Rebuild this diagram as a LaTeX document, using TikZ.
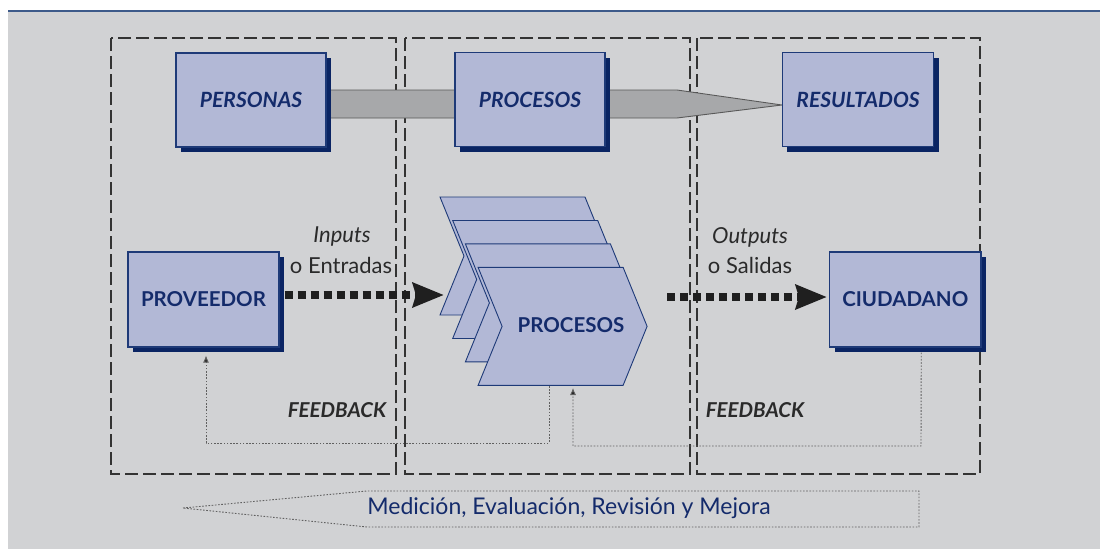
\documentclass[tikz,border=0pt]{standalone}
\usepackage{fontspec}
\setmainfont{Lato}
\usetikzlibrary{arrows.meta,shadows,calc}
\definecolor{bgc}{HTML}{D1D2D4}
\definecolor{boxfill}{HTML}{B2B8D6}
\definecolor{boxline}{HTML}{1E3A78}
\definecolor{shadowc}{HTML}{0A2463}
\definecolor{navy}{HTML}{142B6B}
\definecolor{darktext}{HTML}{2A2A2A}
\definecolor{barfill}{HTML}{A7A8AA}
\definecolor{topblue}{HTML}{3D5A8A}
\definecolor{framec}{HTML}{333333}
\definecolor{dotc}{HTML}{606060}
\tikzset{
  frame/.style={draw=framec, line width=1.2pt, dash pattern=on 13pt off 5pt},
  box/.style={draw=boxline, fill=boxfill, line width=1.1pt, minimum height=94pt,
    copy shadow={shadow xshift=5pt, shadow yshift=-5pt, fill=shadowc, draw=none},
    text=navy, font=\fontsize{20.5}{22}\selectfont\bfseries},
  boxit/.style={box, font=\fontsize{21}{23}\selectfont\bfseries\itshape},
  chev/.style={draw=boxline, fill=boxfill, line width=0.9pt, line join=miter},
  bar/.style={draw=black!65, fill=barfill, line width=0.9pt},
  bigflow/.style={draw=black!88, line width=7.5pt, dash pattern=on 8pt off 5pt,
    -{Stealth[length=31pt,width=24pt,inset=3pt,fill=black!88]}},
  fb/.style={draw=dotc, line width=0.9pt, dash pattern=on 1.6pt off 1.6pt,
    -{Latex[length=7pt,width=6pt,fill=black!85]}},
  iolabel/.style={text=darktext, font=\fontsize{22}{24}\selectfont, inner sep=0pt},
  fblabel/.style={text=darktext, font=\fontsize{20.5}{22}\selectfont\bfseries\itshape, inner sep=0pt},
  band/.style={draw=dotc, line width=0.9pt, dash pattern=on 1.6pt off 1.6pt},
  bandlabel/.style={text=navy, font=\fontsize{23}{25}\selectfont, inner sep=0pt}
}
\begin{document}
\begin{tikzpicture}[x=1pt,y=-1pt]
\useasboundingbox (0,0) rectangle (1100,549);
\fill[white] (0,0) rectangle (1100,549);
\fill[bgc] (8,11) rectangle (1100,549);
\draw[topblue, line width=2pt] (8,11) -- (1100,11);

% dashed frames
\draw[frame] (111,38) rectangle (396,474);
\draw[frame] (405,38) rectangle (690,474);
\draw[frame] (697,38) rectangle (980,474);

% grey bar
\draw[bar] (320,90) -- (677,90) -- (782,105) -- (677,118) -- (320,118) -- cycle;

% top boxes
\node[boxit, minimum width=150pt] (personas) at (251,100) {PERSONAS};
\node[boxit, minimum width=150pt] (procesosTop) at (530,99.5) {PROCESOS};
\node[boxit, minimum width=151.5pt] (resultados) at (858,99.5) {RESULTADOS};

% process chevrons
\foreach \i in {0,1,2,3}{
  \pgfmathsetmacro{\xa}{440+12.7*\i}
  \pgfmathsetmacro{\ya}{197+23.45*\i}
  \draw[chev] (\xa,\ya) -- ++(145,0) -- ++(24,59) -- ++(-24,59) -- ++(-145,0) -- ++(24,-59) -- cycle;
}
\node[text=navy, font=\fontsize{20.5}{22}\selectfont\bfseries, inner sep=0pt] (proc) at (571,325) {PROCESOS};

% side boxes
\node[box, minimum width=151pt, minimum height=95pt] (prov) at (203.5,299.5) {PROVEEDOR};
\node[box, minimum width=151.5pt, minimum height=95pt] (ciud) at (905.25,299.5) {CIUDADANO};

% inputs / outputs
\node[iolabel, font=\fontsize{22}{24}\selectfont\itshape] (inputs) at (342,237) {Inputs};
\node[iolabel] (entradas) at (341,265) {o Entradas};
\node[iolabel, font=\fontsize{22}{24}\selectfont\itshape] (outputs) at (750,237) {Outputs};
\node[iolabel] (salidas) at (750,265) {o Salidas};

\coordinate (inTip) at (444,295);
\coordinate (outStart) at (667,297);
\draw[bigflow] ([xshift=5pt,yshift=4.5pt]prov.east) -- (inTip);
\draw[bigflow] (outStart) -- ([xshift=-2pt,yshift=2.5pt]ciud.west);

% feedback
\node[fblabel] (fbl1) at (337,410) {FEEDBACK};
\node[fblabel] (fbl2) at (755,410) {FEEDBACK};
\coordinate (fb1s) at (549,386);
\coordinate (fb2e) at (573,388);
\draw[fb] (fb1s) -- (549,443) -- (206,443) -- ([xshift=2.5pt,yshift=-8pt]prov.south);
\draw[fb] ([xshift=16pt,yshift=-5pt]ciud.south) -- (921,446) -- (573,446) -- (fb2e);

% bottom band
\draw[band] (183,508) -- (367,491) -- (919,491) -- (919,527) -- (367,527) -- cycle;
\node[bandlabel] (mejora) at (569,508) {Medición, Evaluación, Revisión y Mejora};
\end{tikzpicture}
\end{document}
